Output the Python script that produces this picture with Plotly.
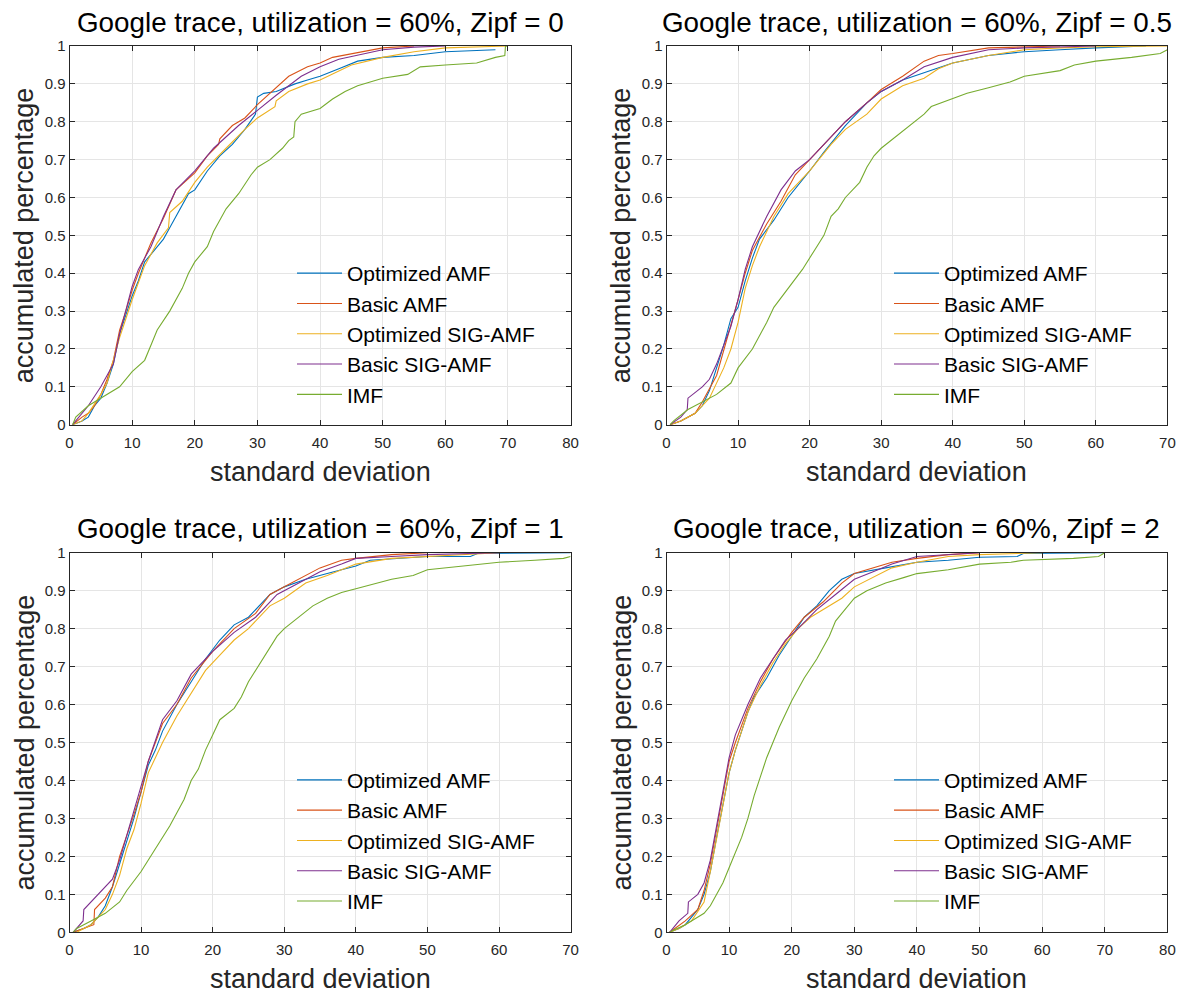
import plotly.graph_objects as go

# ---------------------------------------------------------------------------
# CDF points (standard deviation, accumulated percentage) for each scheme.
# ---------------------------------------------------------------------------
SERIES_NAMES = ["Optimized AMF", "Basic AMF", "Optimized SIG-AMF", "Basic SIG-AMF", "IMF"]
SERIES_COLORS = ["#0072BD", "#D95319", "#EDB120", "#7E2F8E", "#77AC30"]

ZIPF_VALUES = ["0", "0.5", "1", "2"]
X_MAX = [80, 70, 70, 80]
X_TICKS = [list(range(0, 81, 10)), list(range(0, 71, 10)), list(range(0, 71, 10)), list(range(0, 81, 10))]
Y_TICKS = [0, 0.1, 0.2, 0.3, 0.4, 0.5, 0.6, 0.7, 0.8, 0.9, 1]

# Zipf = 0
z0_opt_amf = [(0.5, 0), (2, 0.01), (3, 0.02), (4, 0.05), (5, 0.07), (6, 0.11), (7, 0.16), (8, 0.24),
              (9, 0.29), (10, 0.34), (11, 0.38), (12, 0.43), (13, 0.45), (14, 0.47), (15, 0.49),
              (16, 0.52), (17, 0.55), (18, 0.58), (19, 0.61), (20, 0.62), (22, 0.67), (24, 0.71),
              (26, 0.74), (28, 0.78), (29.7, 0.82), (30, 0.865), (31, 0.875), (33, 0.88), (36, 0.9),
              (38, 0.91), (40, 0.92), (43, 0.94), (46, 0.96), (50, 0.97), (55, 0.975), (60, 0.985),
              (68, 0.99)]
z0_basic_amf = [(0.5, 0), (2, 0.02), (3, 0.03), (4, 0.05), (5, 0.08), (6, 0.12), (7, 0.17), (8, 0.25),
                (9, 0.3), (10, 0.355), (11, 0.4), (12, 0.44), (13, 0.48), (15, 0.545), (17, 0.62),
                (20, 0.665), (22, 0.71), (23.8, 0.74), (24, 0.755), (26, 0.79), (28, 0.81), (30, 0.845),
                (33, 0.89), (35, 0.92), (38, 0.945), (40, 0.955), (42, 0.97), (45, 0.98), (48, 0.99),
                (50, 0.995), (55, 1.0)]
z0_opt_sig = [(0.5, 0), (2, 0.01), (3, 0.03), (5, 0.08), (6, 0.11), (7, 0.17), (8, 0.23), (10, 0.33),
              (12, 0.42), (14, 0.48), (15.8, 0.52), (16, 0.56), (18, 0.59), (20, 0.64), (22, 0.68),
              (25, 0.73), (28, 0.78), (30, 0.81), (32.8, 0.84), (33, 0.855), (35, 0.88), (38, 0.9),
              (40, 0.91), (45, 0.95), (50, 0.97), (55, 0.985), (60, 0.995), (70, 1.0)]
z0_basic_sig = [(0.5, 0), (2, 0.03), (3, 0.05), (5, 0.1), (7, 0.16), (8, 0.24), (9, 0.3), (10, 0.365),
                (11, 0.41), (13, 0.47), (15, 0.55), (17, 0.62), (20, 0.67), (23, 0.73), (27, 0.79),
                (30, 0.83), (33, 0.87), (37, 0.92), (40, 0.945), (43, 0.965), (47, 0.98), (50, 0.99),
                (55, 0.997), (60, 1.0)]
z0_imf = [(0.5, 0), (1, 0.02), (3, 0.05), (5, 0.07), (7, 0.09), (8, 0.1), (10, 0.14), (12, 0.17),
          (13, 0.21), (14, 0.25), (16, 0.3), (18, 0.36), (19, 0.4), (20, 0.43), (22, 0.47), (23, 0.51),
          (25, 0.57), (27, 0.61), (29, 0.66), (30, 0.68), (32, 0.7), (34, 0.73), (35, 0.75),
          (35.8, 0.76), (36, 0.8), (37, 0.82), (40, 0.835), (42, 0.86), (44, 0.88), (46, 0.895),
          (48, 0.905), (50, 0.915), (54, 0.925), (55, 0.935), (56, 0.945), (60, 0.95), (65, 0.955),
          (68, 0.97), (69.5, 0.975), (69.6, 1.0), (70, 1.0)]

# Zipf = 0.5
z05_opt_amf = [(0.5, 0), (2, 0.01), (4, 0.03), (5, 0.05), (6, 0.09), (7, 0.15), (8, 0.21), (9, 0.28),
               (10, 0.31), (11, 0.38), (12, 0.44), (13, 0.49), (15, 0.54), (17, 0.6), (20, 0.67),
               (22, 0.72), (25, 0.79), (28, 0.85), (30, 0.88), (33, 0.91), (36, 0.93), (40, 0.955),
               (45, 0.975), (50, 0.985), (55, 0.99), (60, 0.995), (67, 1.0)]
z05_basic_amf = [(0.5, 0), (2, 0.01), (4, 0.03), (5, 0.06), (7, 0.13), (9, 0.26), (10, 0.33), (11, 0.4),
                 (12, 0.46), (14, 0.53), (16, 0.59), (18, 0.66), (20, 0.7), (22, 0.74), (25, 0.8),
                 (28, 0.85), (30, 0.885), (33, 0.92), (36, 0.96), (38, 0.975), (40, 0.98), (45, 0.995),
                 (50, 0.998), (55, 1.0)]
z05_opt_sig = [(0.5, 0), (2, 0.01), (4, 0.03), (6, 0.07), (8, 0.15), (9, 0.2), (10, 0.27), (11, 0.36),
               (12, 0.42), (13, 0.47), (15, 0.55), (17, 0.61), (20, 0.67), (23, 0.74), (25, 0.78),
               (28, 0.82), (30, 0.86), (33, 0.895), (36, 0.915), (38, 0.94), (40, 0.955), (45, 0.975),
               (50, 0.99), (55, 0.995), (60, 0.998), (70, 1.0)]
z05_basic_sig = [(0.5, 0), (2, 0.02), (2.9, 0.04), (3, 0.07), (5, 0.1), (6, 0.12), (7, 0.16), (9, 0.26),
                 (10, 0.33), (11, 0.41), (12, 0.47), (14, 0.55), (16, 0.62), (18, 0.67), (20, 0.7),
                 (22, 0.74), (25, 0.8), (28, 0.85), (30, 0.88), (33, 0.91), (36, 0.945), (40, 0.97),
                 (45, 0.99), (50, 0.995), (60, 1.0)]
z05_imf = [(0.5, 0), (1, 0.01), (3, 0.04), (5, 0.06), (7, 0.08), (9, 0.11), (10, 0.15), (12, 0.2),
           (14, 0.27), (15, 0.31), (17, 0.36), (19, 0.41), (21, 0.47), (22, 0.5), (23, 0.55),
           (24, 0.57), (25, 0.6), (27, 0.64), (28, 0.68), (29, 0.71), (30, 0.73), (32, 0.76),
           (34, 0.79), (36, 0.82), (37, 0.84), (40, 0.86), (42, 0.875), (45, 0.89), (48, 0.905),
           (50, 0.92), (55, 0.935), (57, 0.95), (60, 0.96), (65, 0.97), (69, 0.98), (70, 0.99)]

# Zipf = 1
z1_opt_amf = [(0.5, 0), (2, 0.01), (3, 0.02), (4, 0.04), (5, 0.07), (6, 0.12), (7, 0.18), (8, 0.24),
              (9, 0.3), (10, 0.37), (11, 0.44), (12, 0.48), (13, 0.53), (15, 0.6), (17, 0.66),
              (19, 0.72), (21, 0.77), (23, 0.81), (25, 0.83), (28, 0.89), (30, 0.91), (33, 0.93),
              (36, 0.945), (40, 0.965), (42, 0.98), (50, 0.99), (56, 0.99), (57, 0.998), (70, 1.0)]
z1_basic_amf = [(0.5, 0), (2, 0.01), (3.4, 0.02), (3.5, 0.06), (5, 0.09), (6, 0.12), (7, 0.2),
                (9, 0.31), (10, 0.37), (11, 0.45), (13, 0.55), (15, 0.6), (17, 0.67), (20, 0.74),
                (23, 0.8), (26, 0.84), (28, 0.89), (30, 0.91), (32, 0.93), (35, 0.96), (38, 0.98),
                (40, 0.985), (45, 0.995), (50, 1.0)]
z1_opt_sig = [(1, 0), (1.5, 0.005), (3, 0.02), (5, 0.06), (6, 0.1), (7, 0.15), (8, 0.22), (9, 0.27),
              (10, 0.34), (11, 0.42), (12, 0.46), (13, 0.5), (15, 0.57), (17, 0.63), (19, 0.69),
              (21, 0.73), (23, 0.77), (25, 0.8), (28, 0.86), (30, 0.88), (33, 0.92), (36, 0.94),
              (40, 0.97), (45, 0.985), (50, 0.99), (55, 0.995), (60, 1.0)]
z1_basic_sig = [(0.5, 0), (1.9, 0.03), (2, 0.06), (3, 0.08), (4, 0.1), (6, 0.14), (7, 0.19), (9, 0.32),
                (10, 0.39), (11, 0.45), (13, 0.56), (15, 0.61), (17, 0.68), (20, 0.74), (23, 0.79),
                (26, 0.83), (29, 0.89), (32, 0.92), (35, 0.95), (38, 0.97), (40, 0.985), (45, 0.99),
                (50, 0.995), (60, 1.0)]
z1_imf = [(0.5, 0), (1, 0.01), (3, 0.03), (5, 0.05), (7, 0.08), (8, 0.11), (10, 0.16), (12, 0.22),
          (14, 0.28), (16, 0.35), (17, 0.4), (18, 0.43), (19, 0.48), (20, 0.52), (21, 0.56), (23, 0.59),
          (24, 0.62), (25, 0.66), (27, 0.72), (29, 0.78), (30, 0.8), (32, 0.83), (34, 0.86), (36, 0.88),
          (38, 0.895), (40, 0.905), (43, 0.92), (45, 0.93), (48, 0.94), (50, 0.955), (55, 0.965),
          (60, 0.975), (65, 0.98), (69, 0.985), (70, 0.99)]

# Zipf = 2
z2_opt_amf = [(0.5, 0), (2, 0.01), (3, 0.02), (4, 0.04), (5, 0.06), (6, 0.1), (7, 0.16), (8, 0.25),
              (9, 0.34), (10, 0.42), (11, 0.48), (12, 0.53), (13, 0.58), (14, 0.62), (16, 0.67),
              (18, 0.73), (20, 0.78), (22, 0.83), (24, 0.86), (26, 0.9), (28, 0.93), (30, 0.945),
              (35, 0.96), (40, 0.975), (45, 0.98), (50, 0.988), (56, 0.99), (57, 0.998), (70, 1.0)]
z2_basic_amf = [(0.5, 0), (3, 0.03), (5, 0.06), (6, 0.11), (7, 0.18), (8, 0.27), (9, 0.37), (10, 0.45),
                (11, 0.5), (13, 0.59), (15, 0.66), (17, 0.72), (20, 0.79), (22, 0.83), (25, 0.87),
                (28, 0.92), (30, 0.945), (33, 0.96), (36, 0.975), (40, 0.985), (45, 0.995), (50, 1.0)]
z2_opt_sig = [(0.5, 0), (2, 0.01), (4, 0.03), (6, 0.08), (7, 0.16), (8, 0.25), (9, 0.34), (10, 0.42),
              (11, 0.48), (12, 0.53), (13, 0.58), (15, 0.65), (17, 0.71), (19, 0.76), (21, 0.8),
              (23, 0.83), (25, 0.85), (28, 0.88), (30, 0.91), (33, 0.935), (36, 0.96), (40, 0.975),
              (45, 0.99), (50, 0.995), (60, 1.0)]
z2_basic_sig = [(0.5, 0), (1, 0.01), (2, 0.03), (3.4, 0.05), (3.5, 0.08), (5, 0.1), (6, 0.13), (7, 0.19),
                (8, 0.28), (9, 0.38), (10, 0.46), (11, 0.52), (13, 0.6), (15, 0.67), (17, 0.72),
                (19, 0.77), (21, 0.8), (24, 0.85), (27, 0.89), (30, 0.93), (33, 0.95), (36, 0.97),
                (40, 0.99), (45, 0.995), (50, 1.0)]
z2_imf = [(0.5, 0), (1, 0.005), (3, 0.02), (5, 0.04), (6, 0.05), (7, 0.07), (8, 0.1), (9, 0.13),
          (10, 0.17), (11, 0.21), (12, 0.25), (13, 0.3), (14, 0.36), (15, 0.41), (16, 0.46), (18, 0.54),
          (20, 0.61), (22, 0.67), (24, 0.72), (26, 0.78), (27, 0.82), (28, 0.84), (30, 0.88), (32, 0.9),
          (35, 0.92), (38, 0.935), (40, 0.945), (45, 0.955), (50, 0.97), (55, 0.975), (57, 0.98),
          (65, 0.985), (69, 0.99), (70, 1.0)]

PANEL_SERIES = [
    [z0_opt_amf, z0_basic_amf, z0_opt_sig, z0_basic_sig, z0_imf],
    [z05_opt_amf, z05_basic_amf, z05_opt_sig, z05_basic_sig, z05_imf],
    [z1_opt_amf, z1_basic_amf, z1_opt_sig, z1_basic_sig, z1_imf],
    [z2_opt_amf, z2_basic_amf, z2_opt_sig, z2_basic_sig, z2_imf],
]

# ---------------------------------------------------------------------------
# Layout geometry (pixels of a 1185 x 995 canvas)
# ---------------------------------------------------------------------------
W, H = 1185, 995
# (left, right, top, bottom) of each plotting box
BOXES = [(69.5, 570.6, 46, 424.7), (666.5, 1167.4, 46, 424.7),
         (69.5, 570.6, 552.7, 932.3), (666.5, 1167.4, 552.7, 932.3)]
LEGEND_OFFSET = (222.5, 207)   # legend top-left relative to the box's top-left

FONT = "Liberation Sans, Arial, Helvetica, sans-serif"
AX_COLOR = "#262626"

fig = go.Figure()
layout = dict(
    template="none",
    width=W, height=H, margin=dict(l=0, r=0, t=0, b=0, pad=0, autoexpand=False),
    paper_bgcolor="white", plot_bgcolor="white",
    font=dict(family=FONT, color=AX_COLOR),
    annotations=[],
)

for i, (zipf, series, xmax, box) in enumerate(zip(ZIPF_VALUES, PANEL_SERIES, X_MAX, BOXES)):
    n = "" if i == 0 else str(i + 1)
    xa, ya = "x" + n, "y" + n
    leg = "legend" + n
    l, r, t, b = box
    for name, color, pts in zip(SERIES_NAMES, SERIES_COLORS, series):
        fig.add_trace(go.Scatter(
            x=[p[0] for p in pts], y=[p[1] for p in pts],
            mode="lines", name=name, line=dict(color=color, width=1.1),
            xaxis=xa, yaxis=ya, legend=leg, hoverinfo="skip",
        ))
    common = dict(
        showline=True, linecolor=AX_COLOR, linewidth=1, mirror="ticks",
        ticks="inside", ticklen=5, tickcolor=AX_COLOR, tickwidth=1,
        showgrid=True, gridcolor="#e5e5e5", gridwidth=1, zeroline=False,
        tickfont=dict(family=FONT, size=15, color=AX_COLOR),
        fixedrange=True, automargin=False,
    )
    layout["xaxis" + n] = dict(common, domain=[l / W, r / W], range=[0, xmax],
                               tickvals=X_TICKS[i], anchor=ya, ticklabelstandoff=4)
    layout["yaxis" + n] = dict(common, domain=[1 - b / H, 1 - t / H], range=[0, 1],
                               tickvals=Y_TICKS, ticktext=[f"{v:g}" for v in Y_TICKS], anchor=xa)
    layout[leg] = dict(
        x=(l + LEGEND_OFFSET[0]) / W, y=1 - (t + LEGEND_OFFSET[1]) / H,
        xanchor="left", yanchor="top",
        bgcolor="rgba(0,0,0,0)", borderwidth=0,
        font=dict(family=FONT, size=21, color="black"), itemwidth=45,
    )
    cx = (l + r) / 2
    layout["annotations"] += [
        dict(text=f"Google trace, utilization = 60%, Zipf = {zipf}", x=cx / W, y=1 - (t - 24) / H,
             xref="paper", yref="paper", showarrow=False, xanchor="center", yanchor="middle",
             font=dict(family=FONT, size=27.8, color="black")),
        dict(text="standard deviation", x=cx / W, y=1 - (b + 47) / H,
             xref="paper", yref="paper", showarrow=False, xanchor="center", yanchor="middle",
             font=dict(family=FONT, size=27, color=AX_COLOR)),
        dict(text="accumulated percentage", x=(l - 45.5) / W, y=1 - (t + b) / 2 / H,
             xref="paper", yref="paper", showarrow=False, xanchor="center", yanchor="middle",
             textangle=-90, font=dict(family=FONT, size=27, color=AX_COLOR)),
    ]

fig.update_layout(**layout)
fig.write_html("out.html")
